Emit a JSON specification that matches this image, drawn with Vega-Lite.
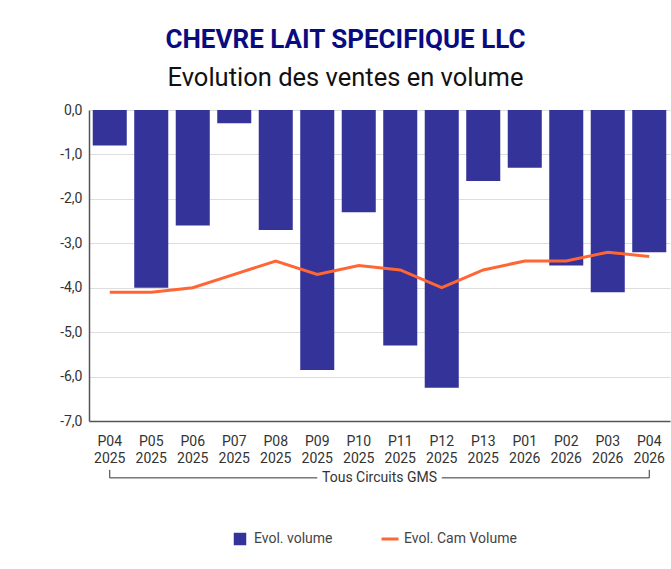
{
  "$schema": "https://vega.github.io/schema/vega-lite/v6.json",
  "width": 581,
  "height": 311,
  "autosize": {"type": "none"},
  "padding": {"left": 89, "top": 110, "right": 1, "bottom": 148},
  "background": "white",
  "config": {
    "font": "Roboto",
    "view": {"stroke": null},
    "axis": {"labelFont": "Roboto", "labelFontSize": 14, "labelColor": "#333333"}
  },
  "title": {
    "text": "CHEVRE LAIT SPECIFIQUE LLC",
    "subtitle": "Evolution des ventes en volume",
    "anchor": "middle",
    "frame": "group",
    "dx": -34,
    "offset": 12,
    "font": "Roboto",
    "fontSize": 26,
    "fontWeight": "bold",
    "color": "#0B0B80",
    "subtitleFont": "Roboto",
    "subtitleFontSize": 25.5,
    "subtitleFontWeight": "normal",
    "subtitleColor": "#111111",
    "subtitlePadding": 13
  },
  "data": {
    "values": [
      {"periode": "P04 2025", "volume": -0.8, "cam": -4.1},
      {"periode": "P05 2025", "volume": -4.0, "cam": -4.1},
      {"periode": "P06 2025", "volume": -2.6, "cam": -4.0},
      {"periode": "P07 2025", "volume": -0.3, "cam": -3.7},
      {"periode": "P08 2025", "volume": -2.7, "cam": -3.4},
      {"periode": "P09 2025", "volume": -5.85, "cam": -3.7},
      {"periode": "P10 2025", "volume": -2.3, "cam": -3.5},
      {"periode": "P11 2025", "volume": -5.3, "cam": -3.6},
      {"periode": "P12 2025", "volume": -6.25, "cam": -4.0},
      {"periode": "P13 2025", "volume": -1.6, "cam": -3.6},
      {"periode": "P01 2026", "volume": -1.3, "cam": -3.4},
      {"periode": "P02 2026", "volume": -3.5, "cam": -3.4},
      {"periode": "P03 2026", "volume": -4.1, "cam": -3.2},
      {"periode": "P04 2026", "volume": -3.2, "cam": -3.3}
    ]
  },
  "layer": [
    {
      "mark": {"type": "bar"},
      "encoding": {
        "x": {
          "field": "periode",
          "type": "nominal",
          "sort": null,
          "scale": {
            "domain": ["P04 2025", "P05 2025", "P06 2025", "P07 2025", "P08 2025", "P09 2025", "P10 2025", "P11 2025", "P12 2025", "P13 2025", "P01 2026", "P02 2026", "P03 2026", "P04 2026"],
            "paddingInner": 0.18,
            "paddingOuter": 0.09
          },
          "axis": {
            "title": null,
            "labelAngle": 0,
            "ticks": false,
            "domain": true,
            "domainColor": "#555555",
            "domainWidth": 1.5,
            "labelPadding": 13,
            "labelLineHeight": 17,
            "labelExpr": "split(datum.label, ' ')"
          }
        },
        "y": {
          "field": "volume",
          "type": "quantitative",
          "scale": {"domain": [-7, 0], "nice": false},
          "axis": {
            "title": null,
            "values": [0, -1, -2, -3, -4, -5, -6, -7],
            "ticks": false,
            "labelPadding": 7,
            "domainColor": "#555555",
            "domainWidth": 1.5,
            "gridColor": "#dddddd",
            "labelExpr": "(datum.value < 0 ? '-' : '') + replace(format(abs(datum.value), '.1f'), '.', ',')"
          }
        },
        "color": {
          "datum": "Evol. volume",
          "scale": {"domain": ["Evol. volume", "Evol. Cam Volume"], "range": ["#333399", "#FF6633"]},
          "legend": {
            "title": null,
            "orient": "none",
            "legendX": 144,
            "legendY": 422,
            "direction": "horizontal",
            "labelFontSize": 14,
            "labelColor": "#444444",
            "labelFont": "Roboto",
            "labelOffset": 7,
            "columnPadding": 42,
            "padding": 0,
            "symbolSize": 156,
            "encode": {
              "symbols": {
                "update": {
                  "shape": {"signal": "datum.label === 'Evol. volume' ? 'square' : 'M-1.36,0H1.36'"},
                  "fill": {"signal": "datum.label === 'Evol. volume' ? '#333399' : 'transparent'"},
                  "stroke": {"signal": "datum.label === 'Evol. volume' ? 'transparent' : '#FF6633'"},
                  "strokeWidth": {"signal": "datum.label === 'Evol. volume' ? 0 : 3"}
                }
              }
            }
          }
        }
      }
    },
    {
      "mark": {"type": "line", "strokeWidth": 3},
      "encoding": {
        "x": {"field": "periode", "type": "nominal", "sort": null},
        "y": {"field": "cam", "type": "quantitative"},
        "color": {"datum": "Evol. Cam Volume"}
      }
    },
    {
      "data": {"values": [{"bout": "P04 2025"}, {"bout": "P04 2026"}]},
      "mark": {"type": "rule", "color": "#333333", "strokeWidth": 1},
      "encoding": {
        "x": {"field": "bout", "type": "nominal"},
        "y": {"datum": -8.1},
        "y2": {"datum": -8.28}
      }
    },
    {
      "data": {"values": [{"debut": "P04 2025", "fin": "P09 2025"}, {"debut": "P12 2025", "fin": "P04 2026"}]},
      "mark": {"type": "rule", "color": "#333333", "strokeWidth": 1},
      "encoding": {
        "x": {"field": "debut", "type": "nominal"},
        "x2": {"field": "fin"},
        "y": {"datum": -8.28}
      }
    },
    {
      "data": {"values": [{"groupe": "Tous Circuits GMS"}]},
      "mark": {"type": "text", "fontSize": 14, "color": "#333333", "baseline": "middle", "font": "Roboto"},
      "encoding": {
        "text": {"field": "groupe"},
        "y": {"datum": -8.28}
      }
    }
  ]
}
